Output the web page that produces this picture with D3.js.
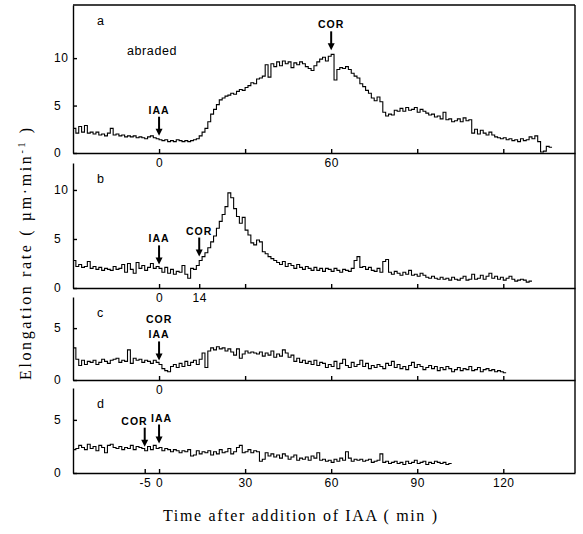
<!DOCTYPE html>
<html>
<head>
<meta charset="utf-8">
<script src="https://cdn.jsdelivr.net/npm/d3@7"></script>
<style>
  body { margin: 0; background: #fff; }
  svg { display: block; }
  .axis path, .axis line { stroke: #000; stroke-width: 1.4; }
  .axis text { font-family: "Liberation Sans", Arial, sans-serif; font-size: 12px; fill: #000; letter-spacing: 0.5px; }
  .trace { fill: none; stroke: #000; stroke-width: 1.1; }
  .frame { stroke: #000; stroke-width: 1.4; }
  .tag { font-family: "Liberation Sans", Arial, sans-serif; font-weight: bold; font-size: 10.5px; letter-spacing: 1px; }
  .note { font-family: "Liberation Sans", Arial, sans-serif; font-size: 12.5px; letter-spacing: 0.6px; }
  .title { font-family: "Liberation Serif", "Times New Roman", serif; font-size: 16px; }
</style>
</head>
<body>
<svg id="chart" width="583" height="534"></svg>
<script>
// all four traces start 30 min before IAA, one value per minute (µm/min)
var startTime = -30

var rateA = [
  2.6, 2.1, 2.8, 2.2, 2.9, 2.1, 2.2, 2.0, 2.2, 1.9,
  2.0, 1.8, 2.1, 2.6, 1.9, 2.0, 1.8, 1.9, 1.7, 1.8,
  1.7, 1.8, 1.6, 1.7, 1.6, 1.5, 1.7, 1.8, 1.6, 1.5,
  1.4, 1.3, 1.4, 1.2, 1.3, 1.2, 1.4, 1.3, 1.2, 1.3,
  1.2, 1.3, 1.4, 1.5, 1.8, 2.2, 2.6, 3.3, 4.1, 4.6,
  5.1, 5.6, 5.8, 6.0, 6.1, 6.3, 6.2, 6.5, 6.7, 6.6,
  6.9, 7.1, 7.4, 7.3, 7.8, 7.9, 8.1, 9.3, 8.0, 9.4,
  9.1, 9.6, 9.2, 9.7, 9.4, 9.6, 9.0, 9.5, 9.3, 9.6,
  9.4, 9.1, 8.9, 8.7, 9.2, 9.6, 9.9, 10.1, 9.7, 10.2,
  10.4, 7.7, 8.8, 9.0, 8.9, 9.1, 8.8, 8.4, 8.1, 7.9,
  7.3, 7.0, 6.6, 6.3, 5.8, 5.5, 5.9, 5.4, 4.3, 3.9,
  4.1, 4.0, 4.5, 4.4, 4.7, 4.4, 4.8, 4.5, 4.6, 4.8,
  4.3, 4.6, 4.4, 4.2, 4.0, 4.1, 3.8, 3.9, 3.6, 4.3,
  3.5, 3.6, 3.3, 3.4, 3.6, 3.3, 3.7, 3.4, 3.5, 2.1,
  2.5, 2.0, 2.4, 2.1, 1.9, 2.2, 1.9, 1.7, 1.6, 1.5,
  1.6, 1.4, 1.5, 1.3, 1.4, 1.2, 1.5, 1.3, 1.4, 1.7,
  1.5, 1.8, 1.2, 0.1, 0.2, 0.7, 0.6
]

var rateB = [
  2.8, 2.2, 2.4, 2.1, 2.2, 2.7, 2.0, 2.2, 1.9, 2.1,
  1.8, 2.0, 1.9, 1.8, 2.2, 1.9, 2.0, 2.4, 1.6, 2.5,
  1.9, 1.5, 2.6, 2.0, 2.3, 1.8, 2.1, 2.5, 2.0, 2.2,
  2.0, 1.6, 2.1, 1.5, 1.9, 1.4, 1.7, 1.6, 2.3, 1.4,
  1.0, 2.0, 1.9, 2.3, 2.8, 3.2, 3.6, 4.1, 4.7, 5.3,
  6.1, 6.8, 7.5, 8.3, 9.7, 9.2, 8.1, 7.3, 6.6, 7.2,
  5.9, 5.4, 4.6, 4.4, 4.9, 4.7, 3.7, 3.5, 3.2, 3.0,
  2.8, 2.6, 2.4, 2.7, 2.2, 2.5, 2.3, 2.0, 2.4, 2.1,
  1.9, 2.2, 2.0, 1.8, 2.1, 1.8, 2.0, 1.7, 2.0, 1.9,
  1.7, 2.0, 1.8, 1.6, 1.9, 1.8, 1.7, 2.0, 2.8, 3.2,
  2.1, 2.2, 1.9, 2.1, 1.8, 1.7, 2.0, 1.6, 2.7, 2.9,
  1.6, 1.4, 1.7, 1.5, 1.3, 1.6, 1.4, 1.8, 1.3, 1.4,
  1.2, 1.5, 1.3, 1.1, 1.0, 1.2, 1.0, 0.9, 1.1, 0.9,
  1.0, 0.8, 1.1, 0.9, 0.8, 1.0, 1.2, 0.8, 0.9, 1.4,
  0.9, 1.0, 1.3, 0.9, 1.2, 1.5, 1.0, 1.2, 0.9, 1.1,
  0.8, 1.0, 1.2, 0.9, 0.7, 0.8, 0.9, 0.8, 0.6, 0.7
]

var rateC = [
  3.1, 2.0, 1.4, 1.9, 1.5, 1.8, 1.7, 1.9, 1.5, 1.7,
  2.0, 1.8, 1.6, 1.9, 2.0, 2.1, 1.7, 1.9, 1.8, 2.9,
  1.6, 2.1, 1.9, 2.0, 1.7, 1.9, 1.8, 1.6, 1.9, 1.7,
  1.5, 1.1, 0.9, 0.8, 1.3, 1.5, 1.2, 1.6, 1.3, 1.8,
  1.4, 1.7, 1.9, 1.5, 2.0, 2.6, 1.2, 2.8, 3.1, 2.9,
  3.2, 3.0, 3.1, 2.8, 3.0, 2.7, 2.4, 3.0, 2.1, 2.5,
  2.8, 2.6, 2.7, 2.6, 2.5, 2.7, 2.3, 2.6, 2.4, 2.8,
  2.2, 2.5, 2.3, 2.9, 2.6, 2.2, 2.4, 1.8, 2.1, 1.7,
  1.9, 1.6, 1.8, 1.5, 1.9, 1.4, 1.7, 1.6, 1.2, 1.5,
  1.3, 1.8, 1.1, 1.6, 2.0, 1.4, 1.2, 1.7, 1.3, 1.5,
  1.9, 1.3, 1.6, 1.1, 1.4, 1.2, 1.5, 1.3, 1.1, 1.6,
  1.4, 1.8, 1.2, 1.5, 1.1, 1.3, 1.0, 1.4, 1.7, 1.2,
  1.5, 1.3, 1.0, 1.2, 1.4, 1.1, 1.3, 0.9, 1.2, 1.0,
  1.3, 1.1, 0.8, 1.0, 1.2, 0.9, 1.1, 1.0, 1.3, 0.9,
  1.0, 1.2, 0.8, 1.0, 1.1, 0.9, 1.0, 0.8, 0.9, 0.8,
  0.7
]

var rateD = [
  2.2, 2.3, 2.6, 2.4, 2.2, 2.7, 2.3, 2.5, 2.1, 2.6,
  2.4, 1.9, 2.6, 2.7, 2.4, 2.3, 2.5, 2.2, 2.4, 2.3,
  2.6, 2.2, 2.5, 2.4, 2.3, 2.1, 2.5, 2.2, 2.6, 2.3,
  2.4, 2.1, 2.3, 2.2, 2.0, 2.2, 2.1, 1.9, 2.1, 2.0,
  2.2, 1.6, 1.7, 2.1, 1.8, 2.0, 1.9, 2.1, 1.7, 2.0,
  1.8, 2.2, 1.9, 2.0, 2.3, 1.8, 2.0, 2.4, 2.6, 1.9,
  2.0, 2.2, 1.9, 2.1, 2.0, 1.1, 1.3, 1.9, 1.6, 1.8,
  1.5, 1.7, 1.4, 1.8, 1.6, 1.3, 1.5, 1.7, 1.2, 1.4,
  1.3, 1.5, 1.2, 1.6, 1.4, 1.9, 1.2, 1.3, 1.1, 1.2,
  1.0, 1.3, 1.1, 1.4, 1.2, 2.0, 1.4, 1.1, 1.3, 1.2,
  1.3, 1.1, 1.2, 1.3, 1.0, 1.1, 1.2, 1.8, 1.0, 1.1,
  0.9, 1.0, 1.1, 0.9, 1.0, 0.8, 1.1, 0.9, 1.0, 1.2,
  0.9, 1.0, 1.1, 0.8, 1.0, 0.9, 1.1, 1.0, 0.9, 1.0,
  0.8, 0.9
]

// tick labels that are printed under each panel
var timeTicks = [0, 30, 60, 90, 120]
var xLabelsA = [0, 60]
var xLabelsB = [0, 14]
var xLabelsC = [0]
var xLabelsD = [-5, 0, 30, 60, 90, 120]

// additions (arrows): time of addition and label lines
var marksA = [{time: 0, text: ['IAA']}, {time: 60, text: ['COR']}]
var marksB = [{time: 0, text: ['IAA']}, {time: 14, text: ['COR']}]
var marksC = [{time: 0, text: ['COR', 'IAA']}]
var marksD = [{time: -5, text: ['COR']}, {time: 0, text: ['IAA']}]

var panels = [
  {name: 'a', rates: rateA, yMax: 15.6, top: 5, bottom: 153, yTicks: [0, 5, 10], xLabels: xLabelsA, marks: marksA},
  {name: 'b', rates: rateB, yMax: 12.75, top: 163, bottom: 288, yTicks: [0, 5, 10], xLabels: xLabelsB, marks: marksB},
  {name: 'c', rates: rateC, yMax: 8, top: 297, bottom: 380, yTicks: [0, 5], xLabels: xLabelsC, marks: marksC},
  {name: 'd', rates: rateD, yMax: 8, top: 388, bottom: 473, yTicks: [0, 5], xLabels: xLabelsD, marks: marksD}
]

var svg = d3.select('#chart')

var x = d3.scaleLinear()
  .domain([-30, 145])
  .range([73, 575])

panels.forEach(function(p) {
  var y = d3.scaleLinear()
    .domain([0, p.yMax])
    .range([p.bottom, p.top])
  var g = svg.append('g').attr('class', 'panel panel-' + p.name)

  // x axis, ticks pointing inwards
  var ticks = timeTicks.concat(p.xLabels.filter(function(d) { return timeTicks.indexOf(d) < 0 }))
  g.append('g')
    .attr('class', 'axis axis--x')
    .attr('transform', 'translate(0,' + p.bottom + ')')
    .call(d3.axisBottom(x)
      .tickValues(ticks)
      .tickSize(-4)
      .tickSizeOuter(0)
      .tickPadding(5)
      .tickFormat(function(d) { return p.xLabels.indexOf(d) >= 0 ? d : '' }))

  // y axis
  g.append('g')
    .attr('class', 'axis axis--y')
    .attr('transform', 'translate(' + x.range()[0] + ',0)')
    .call(d3.axisLeft(y)
      .tickValues(p.yTicks)
      .tickSize(-4)
      .tickSizeOuter(0))
    .selectAll('text')
      .attr('text-anchor', 'start')
      .attr('x', -19)

  // step trace
  var pts = p.rates.map(function(v, i) { return [startTime + i, v] })
  pts.push([startTime + p.rates.length, p.rates[p.rates.length - 1]])
  g.append('path')
    .datum(pts)
    .attr('class', 'trace')
    .attr('d', d3.line()
      .curve(d3.curveStepAfter)
      .x(function(d) { return x(d[0]) })
      .y(function(d) { return y(d[1]) }))

  // panel letter
  g.append('text')
    .attr('class', 'note')
    .attr('x', 97)
    .attr('y', p.top + 20)
    .text(p.name)

  // arrows for additions
  p.marks.forEach(function(m, i) {
    var ax = x(m.time)
    var tip = y(p.rates[m.time - startTime]) - 4
    var top = tip - 19
    g.append('line')
      .attr('x1', ax).attr('x2', ax)
      .attr('y1', top).attr('y2', tip - 5)
      .attr('stroke', '#000').attr('stroke-width', 2)
    g.append('path')
      .attr('d', 'M' + (ax - 3.5) + ',' + (tip - 7) + 'L' + (ax + 3.5) + ',' + (tip - 7) + 'L' + ax + ',' + tip + 'Z')
      .attr('fill', '#000')
    // labels close together get pushed apart
    var next = p.marks[i + 1], prev = p.marks[i - 1]
    var anchor = 'middle', tx = ax
    if (next && x(next.time) - ax < 25) { anchor = 'end'; tx = ax + 3 }
    if (prev && ax - x(prev.time) < 25) { anchor = 'start'; tx = ax - 8 }
    m.text.slice().reverse().forEach(function(t, j) {
      g.append('text')
        .attr('class', 'tag')
        .attr('x', tx)
        .attr('y', top - 3 - j * 15)
        .attr('text-anchor', anchor)
        .text(t)
    })
  })

  if (p.name == 'a') {
    g.append('text').attr('class', 'note').attr('x', 127).attr('y', p.top + 50).text('abraded')
    // top border of the first panel
    g.append('line').attr('class', 'frame')
      .attr('x1', x.range()[0]).attr('x2', x.range()[1])
      .attr('y1', p.top).attr('y2', p.top)
  }
})

// right border running down all panels
svg.append('line').attr('class', 'frame')
  .attr('x1', x.range()[1]).attr('x2', x.range()[1])
  .attr('y1', panels[0].top).attr('y2', panels[3].bottom)

// axis titles
svg.append('text')
  .attr('class', 'title')
  .attr('x', 300)
  .attr('y', 521)
  .attr('text-anchor', 'middle')
  .attr('textLength', 274)
  .attr('lengthAdjust', 'spacing')
  .text('Time after addition of IAA ( min )')

var yTitle = svg.append('text')
  .attr('class', 'title')
  .attr('transform', 'translate(31,254) rotate(-90)')
  .attr('text-anchor', 'middle')
  .attr('font-size', 17)
  .attr('textLength', 252)
  .attr('lengthAdjust', 'spacing')
yTitle.append('tspan').text('Elongation rate ( \u00b5m\u00b7min')
yTitle.append('tspan').attr('dy', -6).attr('font-size', 10).text('-1')
yTitle.append('tspan').attr('dy', 6).text(' )')
</script>
</body>
</html>
